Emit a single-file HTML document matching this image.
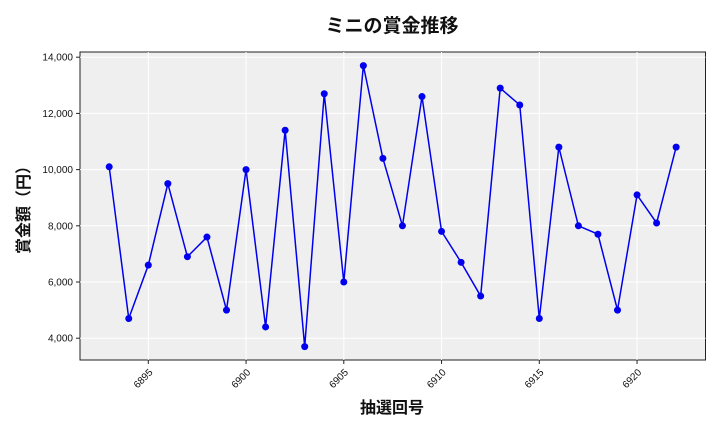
<!DOCTYPE html>
<html><head><meta charset="utf-8"><style>
body{margin:0;background:#fff;}
svg{display:block;font-family:"Liberation Sans","Noto Sans CJK JP",sans-serif;}
</style></head><body>
<svg id="s" width="720" height="432" xmlns="http://www.w3.org/2000/svg">
<rect x="80" y="52" width="625.5" height="308" fill="#efefef" stroke="#222" stroke-width="1"/>
<g id="g"></g>
<text x="392" y="32" text-anchor="middle" font-size="19" font-weight="bold" fill="#111">ミニの賞金推移</text>
<text x="392" y="413" text-anchor="middle" font-size="16" font-weight="bold" fill="#111">抽選回号</text>
<text transform="translate(29,206) rotate(-90)" text-anchor="middle" font-size="16" font-weight="bold" fill="#111">賞金額（円）</text>
</svg>
<script>
var d=[10100,4700,6600,9500,6900,7600,5000,10000,4400,11400,3700,12700,6000,13700,10400,8000,12600,7800,6700,5500,12900,12300,4700,10800,8000,7700,5000,9100,8100,10800];
function X(n){return 148.3+(n-6895)*19.55;}
function Y(v){return 57.2+(14000-v)*0.02810;}
var h='';
for(var v=4000;v<=14000;v+=2000){var y=Y(v);h+='<line x1="80" x2="705.5" y1="'+y+'" y2="'+y+'" stroke="#fff" stroke-width="1"/><line x1="76" x2="80" y1="'+y+'" y2="'+y+'" stroke="#222"/><text x="73" y="'+(y+3.5)+'" text-anchor="end" font-size="10" fill="#111">'+v.toLocaleString('en-US')+'</text>';}
for(var n=6895;n<=6920;n+=5){var x=X(n);h+='<line y1="52" y2="360" x1="'+x+'" x2="'+x+'" stroke="#fff" stroke-width="1"/><line y1="360" y2="364" x1="'+x+'" x2="'+x+'" stroke="#222"/><text transform="translate('+(x+5)+',373) rotate(-45)" text-anchor="end" font-size="10" fill="#111">'+n+'</text>';}
var p=d.map(function(v,i){return X(6893+i)+','+Y(v);}).join(' ');
h+='<polyline points="'+p+'" fill="none" stroke="#0000ee" stroke-width="1.5"/>';
d.forEach(function(v,i){h+='<circle cx="'+X(6893+i)+'" cy="'+Y(v)+'" r="3.5" fill="#0000ee"/>';});
document.getElementById('g').innerHTML=h;
</script>
</body></html>
